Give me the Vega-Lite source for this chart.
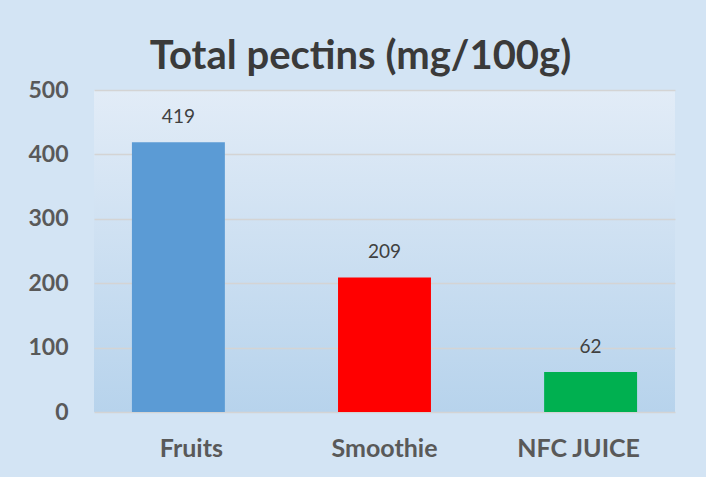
{
  "$schema": "https://vega.github.io/schema/vega-lite/v6.json",
  "autosize": {"type": "none"},
  "width": 581,
  "height": 322,
  "padding": {"left": 94, "top": 90, "right": 31, "bottom": 65},
  "background": "#d3e4f4",
  "title": {
    "text": "Total pectins (mg/100g)",
    "font": "Lato",
    "fontSize": 40,
    "fontWeight": "bold",
    "color": "#3a3a3a",
    "anchor": "middle",
    "dx": -24,
    "offset": 2
  },
  "config": {
    "view": {
      "stroke": null,
      "fill": {
        "gradient": "linear",
        "x1": 0, "y1": 0, "x2": 0, "y2": 1,
        "stops": [
          {"offset": 0, "color": "#e2ecf7"},
          {"offset": 1, "color": "#b7d3ec"}
        ]
      }
    }
  },
  "data": {
    "values": [
      {"category": "Fruits", "value": 419},
      {"category": "Smoothie", "value": 209},
      {"category": "NFC JUICE", "value": 62}
    ]
  },
  "encoding": {
    "x": {
      "field": "category",
      "type": "nominal",
      "sort": null,
      "scale": {"paddingInner": 0.549, "paddingOuter": 0.184},
      "axis": {
        "title": null,
        "domain": false,
        "ticks": false,
        "labelAngle": 0,
        "labelFont": "Lato",
        "labelFontSize": 25,
        "labelFontWeight": "bold",
        "labelColor": "#595959",
        "labelPadding": 24,
        "labelOffset": {
          "condition": [
            {"test": "datum.value === 'Fruits'", "value": 13},
            {"test": "datum.value === 'NFC JUICE'", "value": -12}
          ],
          "value": 0
        }
      }
    },
    "y": {
      "field": "value",
      "type": "quantitative",
      "scale": {"domain": [0, 500], "nice": false},
      "axis": {
        "title": null,
        "values": [0, 100, 200, 300, 400, 500],
        "domain": false,
        "ticks": false,
        "grid": true,
        "gridColor": "#d4d4d4",
        "gridWidth": 1.5,
        "labelFont": "Lato",
        "labelFontSize": 23,
        "labelFontWeight": "bold",
        "labelColor": "#595959",
        "labelPadding": 26
      }
    }
  },
  "layer": [
    {
      "mark": {"type": "bar"},
      "encoding": {
        "color": {
          "field": "category",
          "type": "nominal",
          "sort": null,
          "scale": {"domain": ["Fruits", "Smoothie", "NFC JUICE"], "range": ["#5b9bd5", "#ff0000", "#00b050"]},
          "legend": null
        }
      }
    },
    {
      "mark": {"type": "text", "dy": -25, "font": "Lato", "fontSize": 19, "color": "#404040"},
      "encoding": {"text": {"field": "value", "type": "quantitative"}}
    }
  ]
}
